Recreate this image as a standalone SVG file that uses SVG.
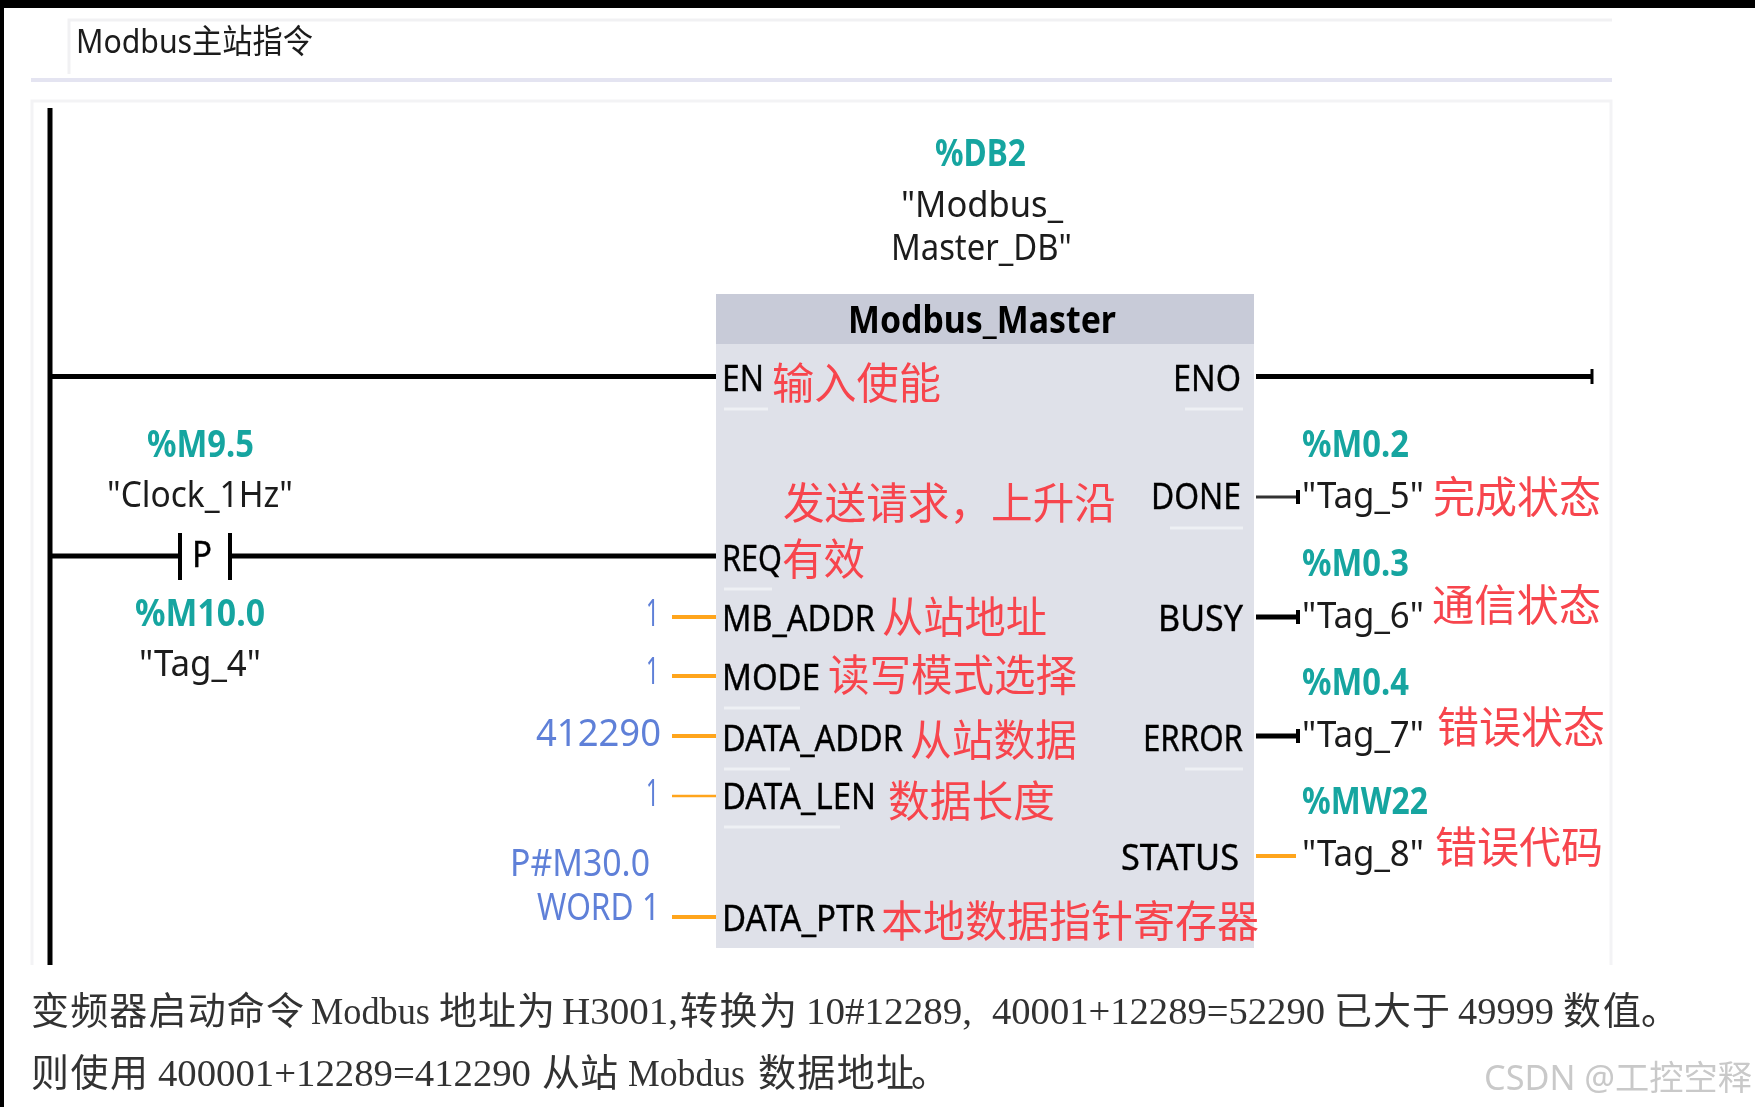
<svg xmlns="http://www.w3.org/2000/svg" width="1755" height="1107" viewBox="0 0 1755 1107">
<defs><filter id="soft" x="0" y="0" width="100%" height="100%"><feGaussianBlur stdDeviation="0.55"/></filter></defs>
<style>
text{font-family:"Noto Sans","Liberation Sans","Noto Sans CJK SC",sans-serif;font-size:37px;fill:#1a1a1a;white-space:pre}
.k{font-size:37px;fill:#000;stroke:#000;stroke-width:.4}
.t{fill:#17a5a0;font-weight:700;font-size:37px}
.b{fill:#5f80d8;font-size:38px}
.r{font-family:"Noto Sans CJK SC",sans-serif;fill:#f7454d;font-size:43px}
.s{font-family:"Liberation Serif","Noto Sans CJK SC",serif;font-size:38px;fill:#333}
.c{font-family:"Noto Sans CJK SC",serif;font-size:38px;fill:#333}
.w{stroke:#000;stroke-width:5;fill:none}
.o{stroke:#ffa51c;stroke-width:4;fill:none}
.sep{stroke:#eef0f4;stroke-width:3;fill:none}
</style>
<rect width="1755" height="1107" fill="#fff"/>
<g filter="url(#soft)">
<g id="frame">
<rect x="0" y="0" width="1755" height="8" fill="#000"/>
<rect x="0" y="0" width="4" height="1107" fill="#000"/>
<path d="M69 74V20H1612" fill="none" stroke="#f1f1f3" stroke-width="3"/>
<path d="M31 80H1612" fill="none" stroke="#e4e4f1" stroke-width="4"/>
<path d="M32 965V101H1611V965" fill="none" stroke="#f3f3f5" stroke-width="3"/>
</g>
<g id="title"><text x="76" y="53" textLength="237" lengthAdjust="spacingAndGlyphs" style="font-size:33px;font-family:'Noto Sans','Noto Sans CJK SC',sans-serif">Modbus主站指令</text></g>
<g id="connectors">
<path class="w" d="M50 108V965"/>
<path class="w" d="M50 376.500H716"/>
<path class="w" d="M1256 376.500H1592"/>
<path d="M1592 369V384" stroke="#000" stroke-width="3"/>
<path class="w" d="M50 556H179M232 556H716"/>
<path d="M1256 497H1298" stroke="#333" stroke-width="3"/>
<path d="M1298 490V504" stroke="#000" stroke-width="4"/>
<path class="w" d="M1256 617H1298"/>
<path d="M1298 610V624" stroke="#000" stroke-width="4"/>
<path class="w" d="M1256 736H1298"/>
<path d="M1298 729V743" stroke="#000" stroke-width="4"/>
<path class="o" d="M1256 856H1296"/>
<path class="o" d="M672 617H716M672 676H716M672 736H716M672 917H716"/>
<path class="o" style="stroke-width:2.5" d="M672 796H716"/>
</g>
<g id="contact">
<path d="M180 533V580M230 533V580" stroke="#000" stroke-width="4"/>
<text x="192" y="567" textLength="20" lengthAdjust="spacingAndGlyphs" class="k">P</text>
<text x="147" y="457" textLength="107" lengthAdjust="spacingAndGlyphs" class="t">%M9.5</text>
<text x="107" y="507" textLength="186" lengthAdjust="spacingAndGlyphs">"Clock_1Hz"</text>
<text x="135" y="626" textLength="130" lengthAdjust="spacingAndGlyphs" class="t">%M10.0</text>
<text x="139" y="676" textLength="122" lengthAdjust="spacingAndGlyphs">"Tag_4"</text>
</g>
<g id="db">
<text x="935" y="166" textLength="91" lengthAdjust="spacingAndGlyphs" class="t">%DB2</text>
<text x="901" y="217" textLength="162" lengthAdjust="spacingAndGlyphs">"Modbus_</text>
<text x="891" y="260" textLength="181" lengthAdjust="spacingAndGlyphs">Master_DB"</text>
</g>
<g id="block">
<rect x="716" y="294" width="538" height="654" fill="#dfe1e9"/>
<rect x="716" y="294" width="538" height="50" fill="#c8cbd8"/>
<path class="sep" d="M724 409H768M1185 409H1243M1170 528H1243M724 589H772M724 708H800M1185 769H1243M724 769H790M724 827H840"/>
<text x="848" y="333" textLength="268" lengthAdjust="spacingAndGlyphs" style="font-weight:700;fill:#000;font-size:37px">Modbus_Master</text>
<g class="pins">
<text x="722" y="391" textLength="42" lengthAdjust="spacingAndGlyphs" class="k">EN</text>
<text x="1173" y="391" textLength="68" lengthAdjust="spacingAndGlyphs" class="k">ENO</text>
<text x="722" y="571" textLength="60" lengthAdjust="spacingAndGlyphs" class="k">REQ</text>
<text x="1151" y="509" textLength="90" lengthAdjust="spacingAndGlyphs" class="k">DONE</text>
<text x="722" y="631" textLength="153" lengthAdjust="spacingAndGlyphs" class="k">MB_ADDR</text>
<text x="1158" y="631" textLength="85" lengthAdjust="spacingAndGlyphs" class="k">BUSY</text>
<text x="722" y="690" textLength="98" lengthAdjust="spacingAndGlyphs" class="k">MODE</text>
<text x="722" y="751" textLength="181" lengthAdjust="spacingAndGlyphs" class="k">DATA_ADDR</text>
<text x="1143" y="751" textLength="100" lengthAdjust="spacingAndGlyphs" class="k">ERROR</text>
<text x="722" y="809" textLength="154" lengthAdjust="spacingAndGlyphs" class="k">DATA_LEN</text>
<text x="1121" y="870" textLength="118" lengthAdjust="spacingAndGlyphs" class="k">STATUS</text>
<text x="722" y="931" textLength="153" lengthAdjust="spacingAndGlyphs" class="k">DATA_PTR</text>
</g>
<g class="notes">
<text x="772" y="399" textLength="169" lengthAdjust="spacingAndGlyphs" class="r">输入使能</text>
<text x="783" y="519" textLength="333" lengthAdjust="spacingAndGlyphs" class="r">发送请求，上升沿</text>
<text x="782" y="575" textLength="83" lengthAdjust="spacingAndGlyphs" class="r">有效</text>
<text x="882" y="633" textLength="165" lengthAdjust="spacingAndGlyphs" class="r">从站地址</text>
<text x="828" y="691" textLength="249" lengthAdjust="spacingAndGlyphs" class="r">读写模式选择</text>
<text x="910" y="756" textLength="167" lengthAdjust="spacingAndGlyphs" class="r">从站数据</text>
<text x="888" y="817" textLength="167" lengthAdjust="spacingAndGlyphs" class="r">数据长度</text>
<text x="881" y="937" textLength="378" lengthAdjust="spacingAndGlyphs" class="r">本地数据指针寄存器</text>
</g>
</g>
<g id="inputs">
<text x="646" y="626" textLength="13" lengthAdjust="spacingAndGlyphs" class="b">1</text>
<text x="646" y="684" textLength="13" lengthAdjust="spacingAndGlyphs" class="b">1</text>
<text x="536" y="746" textLength="125" lengthAdjust="spacingAndGlyphs" class="b">412290</text>
<text x="646" y="806" textLength="13" lengthAdjust="spacingAndGlyphs" class="b">1</text>
<text x="510" y="876" textLength="140" lengthAdjust="spacingAndGlyphs" class="b">P#M30.0</text>
<text x="537" y="920" textLength="123" lengthAdjust="spacingAndGlyphs" class="b">WORD 1</text>
</g>
<g id="outputs">
<text x="1302" y="457" textLength="107" lengthAdjust="spacingAndGlyphs" class="t">%M0.2</text>
<text x="1302" y="508" textLength="122" lengthAdjust="spacingAndGlyphs">"Tag_5"</text>
<text x="1433" y="513" textLength="168" lengthAdjust="spacingAndGlyphs" class="r">完成状态</text>
<text x="1302" y="576" textLength="107" lengthAdjust="spacingAndGlyphs" class="t">%M0.3</text>
<text x="1302" y="628" textLength="122" lengthAdjust="spacingAndGlyphs">"Tag_6"</text>
<text x="1432" y="621" textLength="169" lengthAdjust="spacingAndGlyphs" class="r">通信状态</text>
<text x="1302" y="695" textLength="107" lengthAdjust="spacingAndGlyphs" class="t">%M0.4</text>
<text x="1302" y="747" textLength="122" lengthAdjust="spacingAndGlyphs">"Tag_7"</text>
<text x="1437" y="743" textLength="168" lengthAdjust="spacingAndGlyphs" class="r">错误状态</text>
<text x="1302" y="814" textLength="126" lengthAdjust="spacingAndGlyphs" class="t">%MW22</text>
<text x="1302" y="866" textLength="122" lengthAdjust="spacingAndGlyphs">"Tag_8"</text>
<text x="1435" y="863" textLength="168" lengthAdjust="spacingAndGlyphs" class="r">错误代码</text>
</g>
<g id="caption">
<text x="31" y="1024" textLength="273" class="c">变频器启动命令</text>
<text x="311" y="1024" textLength="119" lengthAdjust="spacingAndGlyphs" class="s">Modbus</text>
<text x="439" y="1024" textLength="116" class="c">地址为</text>
<text x="562" y="1024" textLength="116" lengthAdjust="spacingAndGlyphs" class="s">H3001,</text>
<text x="680" y="1024" textLength="117" class="c">转换为</text>
<text x="806" y="1024" textLength="166" lengthAdjust="spacingAndGlyphs" class="s">10#12289,</text>
<text x="992" y="1024" textLength="333" lengthAdjust="spacingAndGlyphs" class="s">40001+12289=52290</text>
<text x="1334" y="1024" textLength="116" class="c">已大于</text>
<text x="1458" y="1024" textLength="96" lengthAdjust="spacingAndGlyphs" class="s">49999</text>
<text x="1563" y="1024" textLength="78" class="c">数值</text>
<text x="1641" y="1024" class="c">。</text>
<text x="31" y="1086" textLength="117" class="c">则使用</text>
<text x="158" y="1086" textLength="373" lengthAdjust="spacingAndGlyphs" class="s">400001+12289=412290</text>
<text x="542" y="1086" textLength="76" class="c">从站</text>
<text x="628" y="1086" textLength="117" lengthAdjust="spacingAndGlyphs" class="s">Mobdus</text>
<text x="758" y="1086" textLength="156" class="c">数据地址</text>
<text x="911" y="1086" class="c">。</text>
</g>
<g id="watermark"><text x="1484" y="1090" textLength="268" lengthAdjust="spacingAndGlyphs" style="font-size:34px;fill:#c9c9c9;font-family:'Noto Sans','Noto Sans CJK SC',sans-serif">CSDN @工控空释</text></g>
</g>
</svg>
